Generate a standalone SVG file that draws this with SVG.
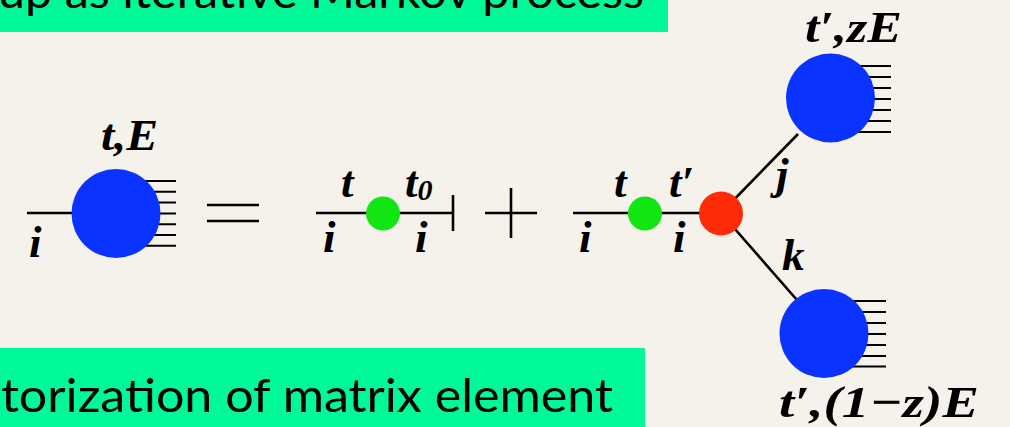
<svg xmlns="http://www.w3.org/2000/svg" width="1010" height="427" viewBox="0 0 1010 427">
  <style>
    .banner { fill: #00F996; }
    .btxt { font-family: Lato, "Open Sans", sans-serif; font-size: 47px; fill: #000; }
    .math { font-family: "Liberation Serif", "DejaVu Serif", serif; font-style: italic; font-weight: bold; font-size: 45px; fill: #000; }
    .ln { stroke: #000; stroke-width: 2.6; fill: none; }
    .hatch { stroke: #000; stroke-width: 2; }
    .blob { fill: #0A33FF; }
    .green { fill: #12E612; }
    .red { fill: #FF2A08; }
  </style>
  <rect width="1010" height="427" fill="#F5F2EB"/>

  <g id="banner-top">
    <rect class="banner" x="0" y="0" width="668" height="32"/>
    <text class="btxt" x="-2" y="8" textLength="646" lengthAdjust="spacingAndGlyphs">up as iterative Markov process</text>
  </g>
  <g id="banner-bottom">
    <rect class="banner" x="0" y="348" width="645" height="79"/>
    <text class="btxt" x="1" y="412" textLength="612" lengthAdjust="spacingAndGlyphs">torization of matrix element</text>
  </g>

  <g id="connectors">
    <line class="ln" x1="27" y1="213" x2="90" y2="213"/>
    <line class="ln" x1="316" y1="213" x2="453" y2="213"/>
    <line class="ln" x1="453" y1="195" x2="453" y2="231"/>
    <line class="ln" x1="573" y1="213" x2="710" y2="213"/>
    <line class="ln" x1="721" y1="213" x2="798" y2="134"/>
    <line class="ln" x1="721" y1="213" x2="797" y2="300"/>
  </g>

  <g id="node-left-blob">
    <g class="hatch">
      <line x1="120" y1="181" x2="176" y2="181"/>
      <line x1="120" y1="191.8" x2="176" y2="191.8"/>
      <line x1="120" y1="202.6" x2="176" y2="202.6"/>
      <line x1="120" y1="213.4" x2="176" y2="213.4"/>
      <line x1="120" y1="224.2" x2="176" y2="224.2"/>
      <line x1="120" y1="235" x2="176" y2="235"/>
      <line x1="120" y1="245.8" x2="176" y2="245.8"/>
    </g>
    <circle class="blob" cx="116" cy="213.5" r="44.5"/>
    <text class="math" x="101" y="150" textLength="57" lengthAdjust="spacingAndGlyphs">t,E</text>
    <text class="math" x="29" y="257">i</text>
  </g>

  <g id="equals">
    <line class="ln" x1="207" y1="205" x2="259" y2="205" stroke-width="3"/>
    <line class="ln" x1="207" y1="221" x2="259" y2="221" stroke-width="3"/>
  </g>

  <g id="node-green-1">
    <circle class="green" cx="383" cy="213.5" r="17"/>
    <text class="math" x="341" y="197">t</text>
    <text class="math" x="405" y="197">t<tspan font-size="30" dy="3">0</tspan></text>
    <text class="math" x="323" y="252">i</text>
    <text class="math" x="415" y="252">i</text>
  </g>

  <g id="plus">
    <line class="ln" x1="485" y1="213" x2="537" y2="213" stroke-width="3"/>
    <line class="ln" x1="511" y1="188" x2="511" y2="238" stroke-width="3"/>
  </g>

  <g id="node-green-2">
    <circle class="green" cx="645" cy="213.5" r="17"/>
    <text class="math" x="614" y="197">t</text>
    <text class="math" x="669" y="197">t′</text>
    <text class="math" x="579" y="252">i</text>
    <text class="math" x="673" y="252">i</text>
  </g>

  <g id="node-red">
    <circle class="red" cx="721" cy="213.5" r="22"/>
    <text class="math" x="776" y="189">j</text>
    <text class="math" x="782" y="270">k</text>
  </g>

  <g id="node-upper-blob">
    <g class="hatch">
      <line x1="835" y1="66" x2="891" y2="66"/>
      <line x1="835" y1="77" x2="891" y2="77"/>
      <line x1="835" y1="88" x2="891" y2="88"/>
      <line x1="835" y1="99" x2="891" y2="99"/>
      <line x1="835" y1="110" x2="891" y2="110"/>
      <line x1="835" y1="121" x2="891" y2="121"/>
      <line x1="835" y1="132" x2="891" y2="132"/>
    </g>
    <circle class="blob" cx="830.5" cy="98" r="44.5"/>
    <text class="math" x="805" y="42" textLength="97" lengthAdjust="spacingAndGlyphs">t′,zE</text>
  </g>

  <g id="node-lower-blob">
    <g class="hatch">
      <line x1="830" y1="301" x2="886" y2="301"/>
      <line x1="830" y1="312" x2="886" y2="312"/>
      <line x1="830" y1="323" x2="886" y2="323"/>
      <line x1="830" y1="334" x2="886" y2="334"/>
      <line x1="830" y1="345" x2="886" y2="345"/>
      <line x1="830" y1="356" x2="886" y2="356"/>
      <line x1="830" y1="366.5" x2="886" y2="366.5"/>
    </g>
    <circle class="blob" cx="824" cy="333.5" r="44.5"/>
    <text class="math" x="779" y="417" textLength="200" lengthAdjust="spacingAndGlyphs">t′,(1−z)E</text>
  </g>
</svg>
